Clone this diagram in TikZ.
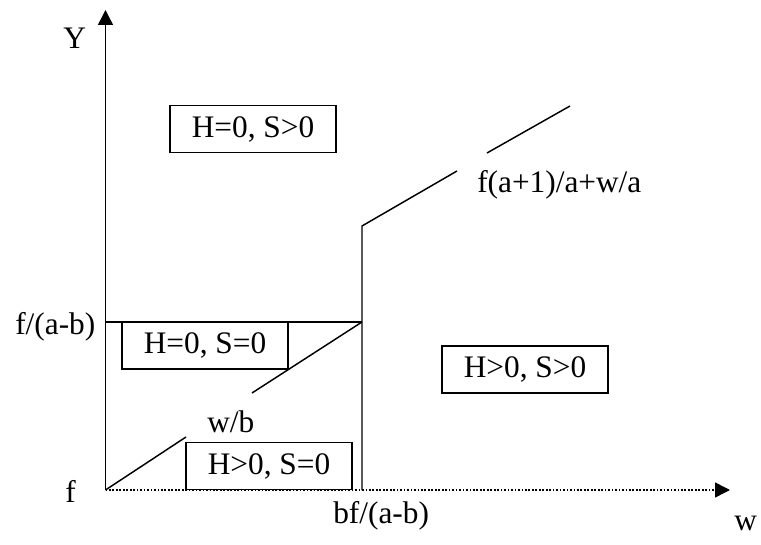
\documentclass[tikz,border=0pt]{standalone}
\usepackage{fontspec}
\setmainfont{Liberation Serif}
\usetikzlibrary{arrows.meta}
\begin{document}
\begin{tikzpicture}[x=0.75pt,y=-0.75pt,
  lbl/.style={font=\fontsize{23.5}{28}\selectfont, inner sep=0pt, anchor=base west},
  regionbox/.style={draw, line width=1.1pt, minimum width=124.5pt, minimum height=35.25pt, inner sep=0pt, font=\fontsize{23.5}{28}\selectfont},
  ln/.style={line width=1.1pt},
  axisarrow/.style={line width=1.1pt, -{Triangle[length=11.25pt,width=11.25pt]}}]
\useasboundingbox (0,0) rectangle (761,545);
% key points
\coordinate (O) at (105.5,490);
\coordinate (Ytop) at (105.5,10);
\coordinate (Xend) at (730,490);
\coordinate (K) at (362,490);
\coordinate (K1) at (362,226);
\coordinate (U1) at (457,171);
\coordinate (U2) at (487,153);
\coordinate (U3) at (570,106);
\coordinate (F) at (105.5,322);
\coordinate (M) at (362,322);
\coordinate (D1) at (186,437);
\coordinate (D2) at (252,393);
% axes
\draw[axisarrow, dash pattern=on 1.3pt off 1.3pt] (O) -- (Xend);
\draw[axisarrow] (O) -- (Ytop);
% lines
\draw[ln] (F) -- (M);
\draw[ln] (O) -- (D1);
\draw[ln] (D2) -- (M);
\draw[ln] (K) -- (K1) -- (U1);
\draw[ln] (U2) -- (U3);
% region boxes
\node[regionbox, fill=white] (b1) at (253,129) {H=0, S>0};
\node[regionbox, fill=white] (b2) at (205,345.5) {H=0, S=0};
\node[regionbox, fill=white] (b3) at (269,466) {H>0, S=0};
\node[regionbox, fill=white] (b4) at (525,369.5) {H>0, S>0};
% labels
\node[lbl] (ly) at (63,49) {Y};
\node[lbl] (lu) at (477,193) {f(a+1)/a+w/a};
\node[lbl] (lfab) at (15,335) {f/(a-b)};
\node[lbl] (lwb) at (207,432) {w/b};
\node[lbl] (lf) at (65,503) {f};
\node[lbl] (lbf) at (333,523) {bf/(a-b)};
\node[lbl] (lw) at (734,530) {w};
\end{tikzpicture}
\end{document}
